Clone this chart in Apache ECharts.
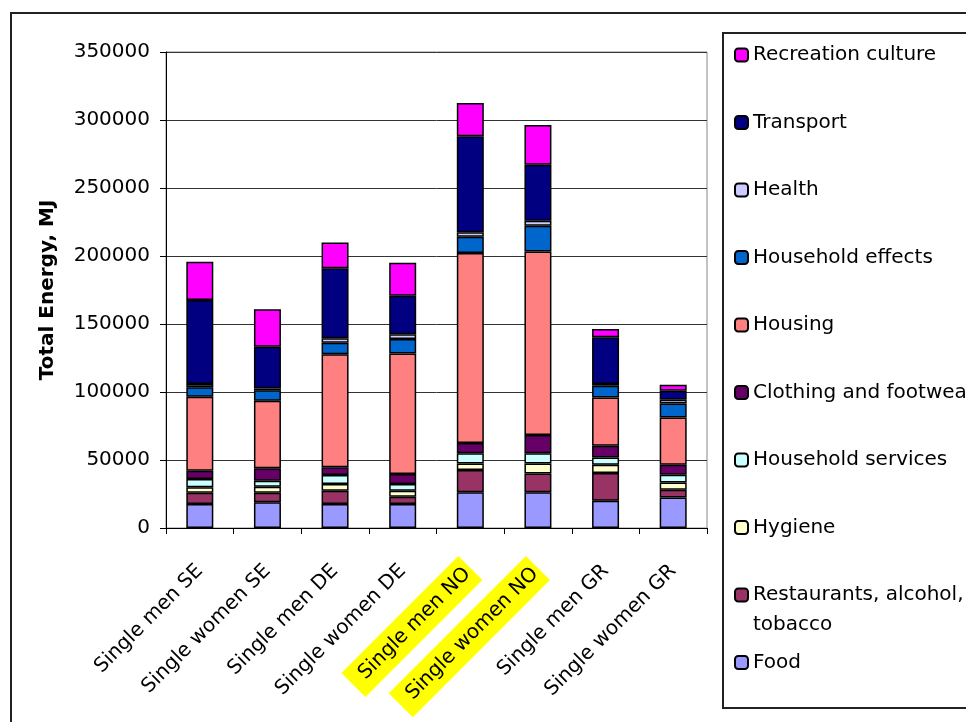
<!DOCTYPE html>
<html>
<head>
<meta charset="utf-8">
<script src="https://cdn.jsdelivr.net/npm/echarts@6/dist/echarts.min.js"></script>
<style>html,body{margin:0;padding:0;background:#fff}#c{width:966px;height:722px}</style>
</head>
<body>
<div id="c"></div>
<script>
const categories = ['Single men SE','Single women SE','Single men DE','Single women DE','Single men NO','Single women NO','Single men GR','Single women GR'];
const highlighted = ['Single men NO','Single women NO'];
const yTicks = [0, 50000, 100000, 150000, 200000, 250000, 300000, 350000];

const food = [17600, 18900, 17600, 17600, 26200, 26200, 20000, 22500];
const restaurants = [8400, 7100, 9800, 5400, 16400, 13900, 20400, 5700];
const hygiene = [4000, 4400, 5000, 4400, 4900, 7400, 6100, 5300];
const householdServices = [6000, 4400, 6600, 5000, 7400, 7400, 5400, 5700];
const clothing = [6100, 9100, 5600, 7300, 7600, 13500, 8600, 7300];
const housing = [54400, 49700, 83100, 88700, 139700, 135000, 35500, 34800];
const householdEffects = [7000, 7600, 8500, 10500, 12000, 18800, 8600, 10300];
const health = [2400, 1500, 3300, 3500, 3200, 3800, 1300, 2700];
const transport = [61700, 30600, 51500, 28400, 70600, 41100, 34300, 6700];
const recreation = [28200, 27500, 19000, 24200, 24500, 29200, 6100, 4400];

// stacking order bottom -> top
const seriesDefs = [
  ['Food', food, '#9999FF'],
  ['Restaurants, alcohol, tobacco', restaurants, '#993366'],
  ['Hygiene', hygiene, '#FFFFCC'],
  ['Household services', householdServices, '#CCFFFF'],
  ['Clothing and footwear', clothing, '#660066'],
  ['Housing', housing, '#FF8080'],
  ['Household effects', householdEffects, '#0066CC'],
  ['Health', health, '#CCCCFF'],
  ['Transport', transport, '#000080'],
  ['Recreation culture', recreation, '#FF00FF']
];
const legendOrder = seriesDefs.map(d => d[0]).reverse();

const FONT = 'DejaVu Sans';
const chart = echarts.init(document.getElementById('c'), null, {renderer: 'canvas'});

const legends = legendOrder.map((name, i) => {
  const center = 55 + i * 67.5;
  const multi = name === 'Restaurants, alcohol, tobacco';
  return {
    data: [name],
    orient: 'vertical',
    left: 734,
    top: multi ? center - 45 : center - 12,
    padding: 0,
    itemWidth: 13,
    itemHeight: 13,
    selectedMode: false,
    formatter: multi ? function () { return '{e| }\n{a|Restaurants, alcohol,}\n{a|tobacco}'; } : '{name}',
    textStyle: {
      color: '#000', fontSize: 20, fontFamily: FONT, lineHeight: 24,
      rich: multi ? {
        e: {fontSize: 20, fontFamily: FONT, lineHeight: 30, color: '#000'},
        a: {fontSize: 20, fontFamily: FONT, lineHeight: 30, color: '#000'}
      } : undefined
    }
  };
});

const option = {
  animation: false,
  textStyle: {fontFamily: FONT},
  graphic: [
    {type: 'rect', shape: {x: 11, y: 13, width: 1000, height: 1000}, style: {fill: 'none', stroke: '#222', lineWidth: 2}, z: 0},
    {type: 'rect', shape: {x: 723, y: 33, width: 400, height: 675}, style: {fill: 'none', stroke: '#222', lineWidth: 2}, z: 0}
  ],
  legend: legends,
  grid: {left: 166, right: 259, top: 52, bottom: 194, show: true, borderColor: '#888', borderWidth: 1},
  xAxis: {
    type: 'category',
    data: categories.map(c => highlighted.includes(c)
      ? {value: c, textStyle: {backgroundColor: '#FFFF00', padding: [7, 4, 7, 12]}}
      : c),
    axisLine: {lineStyle: {color: '#000', width: 1}},
    axisTick: {show: true, length: 6, lineStyle: {color: '#000'}},
    axisLabel: {rotate: 45, interval: 0, margin: 40, fontSize: 20, fontFamily: FONT, color: '#000'}
  },
  yAxis: {
    type: 'value',
    min: yTicks[0],
    max: yTicks[yTicks.length - 1],
    interval: yTicks[1] - yTicks[0],
    name: 'Total Energy, MJ',
    nameLocation: 'middle',
    nameGap: 108,
    nameRotate: 90,
    nameTextStyle: {fontSize: 20, fontWeight: 'bold', fontFamily: FONT, color: '#000'},
    axisLine: {show: true, lineStyle: {color: '#000', width: 1}},
    axisTick: {show: true, length: 6, lineStyle: {color: '#000'}},
    axisLabel: {margin: 16, fontSize: 20, fontFamily: FONT, color: '#000', formatter: v => String(v)},
    splitLine: {show: true, lineStyle: {color: '#333', width: 1}}
  },
  series: seriesDefs.map(([name, values, color]) => ({
    name: name,
    type: 'bar',
    stack: 'total',
    barWidth: 27,
    data: values,
    itemStyle: {color: color, borderColor: '#000', borderWidth: 1.5},
    emphasis: {disabled: true}
  }))
};
chart.setOption(option);
</script>
</body>
</html>
